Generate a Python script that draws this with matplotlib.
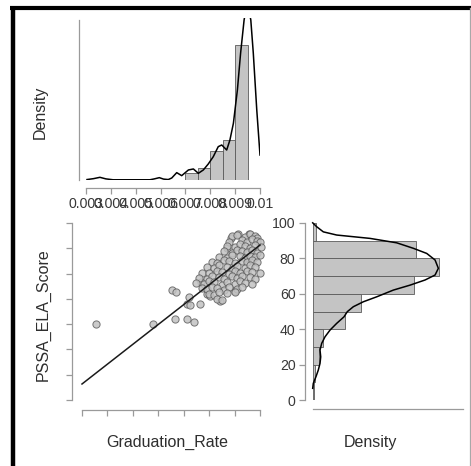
import matplotlib
matplotlib.use('Agg')
import matplotlib.pyplot as plt
from matplotlib.lines import Line2D
import numpy as np

plt.rcParams['font.family'] = ['Liberation Sans', 'DejaVu Sans']

W, H = 471, 466

# ---------------- data ----------------
grad_rate = [
    0.00355, 0.00578, 0.00655, 0.00668, 0.00666, 0.00712, 0.00742, 0.00721, 0.00712, 0.00725,
    0.00764, 0.00769, 0.00790, 0.00803, 0.00843, 0.00869, 0.00886, 0.00912, 0.00903, 0.00955,
    0.0089, 0.0091, 0.0094, 0.0096, 0.0098, 0.0099,
    0.0088, 0.0093, 0.0095, 0.0097, 0.0099, 0.0100,
    0.0087, 0.0090, 0.0092, 0.0094, 0.0096, 0.0098, 0.01005,
    0.0086, 0.0089, 0.0091, 0.0093, 0.0095, 0.0097, 0.0099,
    0.0084, 0.0087, 0.0089, 0.0092, 0.0094, 0.0096, 0.0098, 0.0100,
    0.0081, 0.0083, 0.0086, 0.0088, 0.0090, 0.0093, 0.0095, 0.0097, 0.0099,
    0.0079, 0.0082, 0.0084, 0.0087, 0.0089, 0.0091, 0.0094, 0.0096, 0.0098,
    0.0077, 0.0080, 0.0083, 0.0085, 0.0088, 0.0090, 0.0092, 0.0095, 0.0097, 0.0100,
    0.0076, 0.0079, 0.0081, 0.0084, 0.0086, 0.0089, 0.0091, 0.0093, 0.0096, 0.0098,
    0.0075, 0.0078, 0.0080, 0.0082, 0.0085, 0.0087, 0.0090, 0.0092, 0.0094, 0.0097,
    0.0077, 0.0079, 0.0081, 0.0083, 0.0086, 0.0088, 0.0091, 0.0093,
    0.0080, 0.0082, 0.0084, 0.0087, 0.0090,
    0.0083, 0.0085,
]
ela_score = [
    43, 42.7, 62, 61, 46, 46, 44, 58, 54, 53.6,
    54, 66.6, 60, 59, 56, 85.6, 91.6, 93.7, 61.5, 93.7,
    92.5, 93.5, 92, 94, 92.8, 91.5,
    89.5, 90.5, 89, 91, 90, 89.2,
    87, 86.5, 88, 87.2, 86, 87.8, 86.4,
    84, 83, 85, 84.3, 83.5, 84.6, 83.2,
    81, 80.5, 82, 81.2, 80, 81.6, 80.8, 81.9,
    78, 77.5, 79, 78.4, 77.2, 78.8, 77.8, 79.2, 78.1,
    75, 74.5, 76, 75.4, 74.2, 75.8, 74.8, 76.1, 75.3,
    72, 71.5, 73, 72.4, 71.2, 72.8, 71.8, 73.1, 72.3, 71.6,
    69, 68.5, 70, 69.4, 68.2, 69.8, 68.8, 70.1, 69.3, 68.6,
    66, 65.5, 67, 66.4, 65.2, 66.8, 65.8, 67.1, 66.3, 65.6,
    63, 62.5, 64, 63.4, 62.2, 63.8, 62.8, 64.1,
    60, 59.5, 61, 60.4, 60.8,
    57, 56.5,
]

fit_intercept = -24.6
fit_slope = 11214.0

top_bin_left = [0.0070, 0.0075, 0.0080, 0.0085, 0.0090]
top_bin_density = [65, 105, 263, 359, 1211]
top_bin_width = 0.0005

top_kde_x = [0.00304, 0.00330, 0.00356, 0.00380, 0.00409, 0.00557, 0.00575, 0.00595, 0.00612,
             0.00631, 0.00645, 0.00665, 0.00685, 0.00712, 0.00732, 0.00752, 0.00772, 0.00792,
             0.00812, 0.00832, 0.00846, 0.00866, 0.00879, 0.00893, 0.00909, 0.00922, 0.00936,
             0.00949, 0.00963, 0.00973, 0.00987, 0.01000]
top_kde_y = [4, 12, 24, 10, 2, 2, 10, 21, 8,
             4, 18, 66, 39, 90, 99, 60, 90, 144,
             209, 299, 314, 269, 359, 509, 807, 1139, 1435,
             1600, 1435, 1139, 628, 224]

right_bin_bottom = [0, 10, 20, 30, 40, 50, 60, 70, 80, 90]
right_bin_density = [0.0002, 0.0006, 0.0015, 0.0024, 0.0074, 0.0111, 0.0234, 0.0291, 0.0238, 0.0007]
right_bin_height = 10

right_kde_score = [6.6, 9.4, 13.2, 16.9, 20.7, 24.4, 28.2, 32.0, 35.7, 39.5, 43.3, 47.0, 49.9,
                   52.7, 55.5, 58.3, 62.1, 64.9, 67.8, 70.6, 74.4, 79.1, 82.8, 85.7, 88.8,
                   91.3, 93.2, 95.0, 97.9, 100.1]
right_kde_density = [0.0000, 0.00014, 0.00076, 0.00129, 0.00169, 0.00185, 0.00169, 0.00208,
                     0.00284, 0.0040, 0.00554, 0.00723, 0.00799, 0.00938, 0.01169, 0.01478,
                     0.01862, 0.02248, 0.02594, 0.02825, 0.02901, 0.02825, 0.02633, 0.02324,
                     0.0194, 0.01324, 0.00554, 0.00245, 0.00092, 0.0]

x_ticks = [0.003, 0.004, 0.005, 0.006, 0.007, 0.008, 0.009, 0.010]
x_tick_labels = ['0.003', '0.004', '0.005', '0.006', '0.007', '0.008', '0.009', '0.01']
sc_y_ticks = [0, 14.29, 28.57, 42.86, 57.14, 71.43, 85.71, 100]
score_ticks = [0, 20, 40, 60, 80, 100]
score_tick_labels = ['0', '20', '40', '60', '80', '100']

x_label = 'Graduation_Rate'
y_label = 'PSSA_ELA_Score'
density_label = 'Density'

# ---------------- figure ----------------
fig = plt.figure(figsize=(W / 100, H / 100), dpi=100)
fig.patch.set_facecolor('white')

def rect(l, t, r, b):
    return [l / W, 1 - b / H, (r - l) / W, (b - t) / H]

PX = 0.72  # points per pixel
spine_col = '#9a9a9a'
tick_lab_col = '#383838'
lab_col = '#2e2e2e'
bar_face = '#c4c4c4'
bar_edge = '#5a5a5a'

def base_style(ax):
    for s in ['top', 'right']:
        ax.spines[s].set_visible(False)
    for s in ['left', 'bottom']:
        ax.spines[s].set_color(spine_col)
        ax.spines[s].set_linewidth(0.9)
    ax.tick_params(colors=spine_col, labelcolor=tick_lab_col, width=0.9,
                   length=6 * PX, labelsize=10.2, pad=3.5 * PX)
    ax.patch.set_alpha(0)

# top marginal histogram
ax_top = fig.add_axes(rect(86, 18, 260, 180))
base_style(ax_top)
ax_top.bar(top_bin_left, top_bin_density, width=top_bin_width, align='edge',
           color=bar_face, edgecolor=bar_edge, linewidth=0.6)
ax_top.plot(top_kde_x, top_kde_y, color='black', lw=1.1)
ax_top.set_xlim(0.003, 0.010)
ax_top.set_ylim(0, 1453)
ax_top.set_xticks(x_ticks)
ax_top.set_xticklabels(x_tick_labels)
ax_top.set_yticks([])
ax_top.spines['bottom'].set_position(('outward', 8 * PX))
ax_top.spines['bottom'].set_bounds(0.003, 0.010)
ax_top.spines['left'].set_position(('outward', 7 * PX))
ax_top.spines['left'].set_bounds(0, 1435)

# scatter
ax_sc = fig.add_axes(rect(82, 223, 260, 400))
base_style(ax_sc)
ax_sc.scatter(grad_rate, ela_score, s=27, facecolor='#c2c2c2', edgecolor='#606060',
              linewidth=0.7, alpha=0.85, clip_on=False, zorder=2)
fx = np.array([x_ticks[0], x_ticks[-1]])
ax_sc.plot(fx, fit_intercept + fit_slope * fx, color='#1a1a1a', lw=1.1, zorder=3, clip_on=False)
ax_sc.set_xlim(0.003, 0.010)
ax_sc.set_ylim(0, 100)
ax_sc.set_xticks(x_ticks)
ax_sc.set_xticklabels([])
ax_sc.set_yticks(sc_y_ticks)
ax_sc.set_yticklabels([])
ax_sc.spines['bottom'].set_position(('outward', 10 * PX))
ax_sc.spines['bottom'].set_bounds(0.003, 0.010)
ax_sc.spines['left'].set_position(('outward', 10 * PX))
ax_sc.spines['left'].set_bounds(0, 100)

# right marginal histogram
xmax_r = 0.0347
ax_r = fig.add_axes(rect(312.7, 223, 463, 400))
base_style(ax_r)
ax_r.barh(right_bin_bottom, right_bin_density, height=right_bin_height, align='edge',
          color=bar_face, edgecolor=bar_edge, linewidth=0.6)
ax_r.plot(right_kde_density, right_kde_score, color='black', lw=1.1, clip_on=False)
ax_r.set_xlim(0, xmax_r)
ax_r.set_ylim(0, 100)
ax_r.set_yticks(score_ticks)
ax_r.set_yticklabels(score_tick_labels)
ax_r.set_xticks([])
ax_r.spines['left'].set_position(('outward', 7.7 * PX))
ax_r.spines['left'].set_bounds(0, 100)
ax_r.spines['bottom'].set_position(('outward', 9 * PX))
ax_r.spines['bottom'].set_bounds(0, xmax_r)

# axis titles
fig.text(167 / W, 1 - 442 / H, x_label, ha='center', va='center', fontsize=11.5, color=lab_col)
fig.text(370 / W, 1 - 442 / H, density_label, ha='center', va='center', fontsize=11.5, color=lab_col)
fig.text(43 / W, 1 - 315 / H, y_label, ha='center', va='center', rotation=90,
         fontsize=11.5, color=lab_col)
fig.text(40 / W, 1 - 112 / H, density_label, ha='center', va='center', rotation=90,
         fontsize=11.5, color=lab_col)

# outer frame
fig.add_artist(Line2D([10 / W, 471 / W], [1 - 8.3 / H, 1 - 8.3 / H], color='black',
                      lw=3.0, transform=fig.transFigure, solid_capstyle='butt'))
fig.add_artist(Line2D([12.5 / W, 12.5 / W], [1 - 6.3 / H, 0], color='black',
                      lw=3.2, transform=fig.transFigure, solid_capstyle='butt'))
fig.add_artist(Line2D([470 / W, 470 / W], [1 - 8 / H, 0], color='#a8a8a8',
                      lw=0.9, transform=fig.transFigure))

fig.savefig('out.png', dpi=100)
